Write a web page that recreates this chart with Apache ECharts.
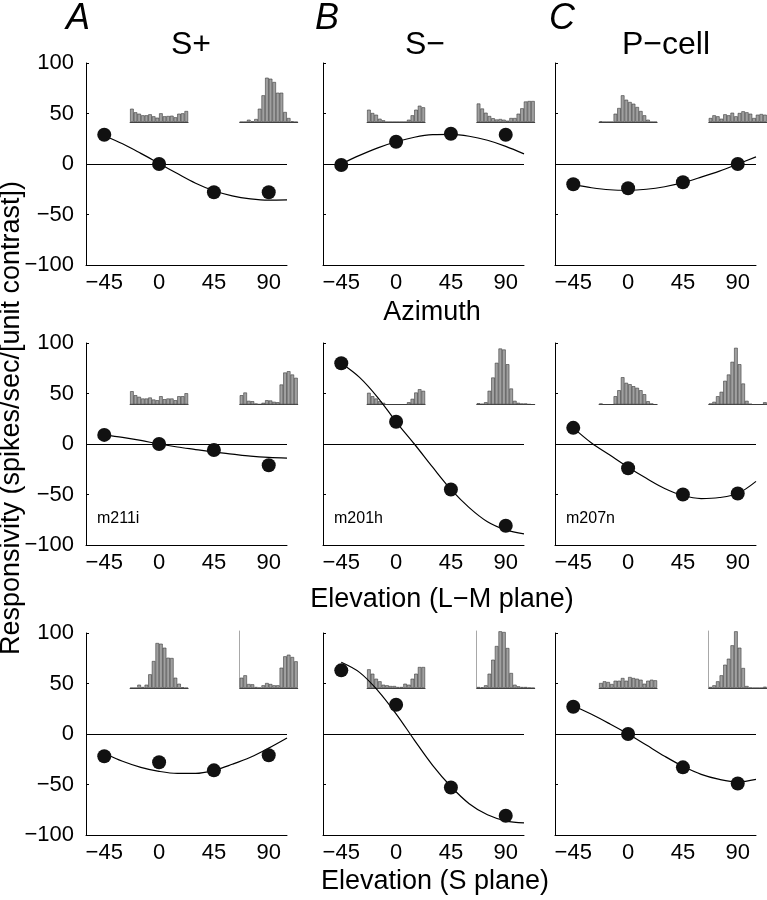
<!DOCTYPE html>
<html>
<head>
<meta charset="utf-8">
<script src="https://cdn.jsdelivr.net/npm/echarts@6/dist/echarts.min.js"></script>
<style>
html,body{margin:0;padding:0;background:#fff;}
#chart{width:767px;height:900px;}
</style>
</head>
<body>
<div id="chart"></div>
<script>
// ---------- data ----------
const xTicks = [-45, 0, 45, 90];
const yTicks = [-100, -50, 0, 50, 100];
const pointX = [-45, 0, 45, 90];
const curveX = [-45, -30, -15, 0, 15, 30, 45, 60, 75, 90, 105];

const columnTitles = ['S+', 'S\u2212', 'P\u2212cell'];
const columnLetters = ['A', 'B', 'C'];
const rowTitles = ['Azimuth', 'Elevation (L\u2212M plane)', 'Elevation (S plane)'];
const cellNames = ['m211i', 'm201h', 'm207n'];
const yTitle = 'Responsivity (spikes/sec/[unit contrast])';

// points (responsivity) per panel
const ptsA1 = [29, 0, -28, -28];
const ptsB1 = [-1, 22, 30, 29];
const ptsC1 = [-20, -24, -18, 0];
const ptsA2 = [9, 0, -6, -21];
const ptsB2 = [80, 22, -45, -81];
const ptsC2 = [16, -24, -50, -49];
const ptsA3 = [-22, -28, -36, -21];
const ptsB3 = [63, 29, -53, -81];
const ptsC3 = [27, 0, -33, -49];

// fitted curves at curveX
const curveA1 = [28, 20, 10.5, 0.5, -9.5, -19, -26.5, -31.5, -34.5, -35.8, -35.6];
const curveB1 = [0, 8.5, 16, 22, 26.5, 29, 29.3, 27.5, 23.5, 17.5, 10];
const curveC1 = [-20.5, -23.5, -25.5, -26, -25, -22.5, -18.5, -13, -7, 0, 7];
const curveA2 = [9, 6.5, 3.5, 0, -3, -5.5, -8, -10, -12, -13.3, -14];
const curveB2 = [80, 66, 46, 22, 0, -23, -45, -63, -77, -85, -89];
const curveC2 = [16, 1, -11, -23, -34, -44, -51, -54, -53, -49, -37];
const curveA3 = [-19, -27, -33, -37, -39, -39, -36, -30, -23, -14, -4];
const curveB3 = [71, 61, 43, 20, -6, -31, -52, -69, -80, -86, -88];
const curveC3 = [28, 19.5, 10, 0, -11, -22, -32, -40, -45, -47.5, -45];

// inset histograms (16 bins each): first centred at 0, second at 90
const histBins = ['1','2','3','4','5','6','7','8','9','10','11','12','13','14','15','16'];
const hA1a = [13.3, 9.7, 8.3, 6.7, 6.7, 7.7, 5.7, 4.3, 8.7, 5.7, 6, 6.3, 4.7, 8.3, 8.7, 11];
const hA1b = [0, 0, 2.3, 0.7, 3, 13.3, 26.7, 44.3, 43.3, 40, 29.3, 29.3, 10, 4, 0.7, 0];
const hB1a = [12.3, 9, 7.3, 3.3, 1.7, 0, 0, 0, 0, 0, 0, 2.3, 6.7, 12.3, 16.3, 14.7];
const hB1b = [18.5, 13.5, 9.3, 6, 3.8, 2.5, 3, 2.3, 1.3, 4, 4, 8.3, 13.7, 20.5, 21, 21];
const hC1a = [0.7, 0, 0, 0, 8.3, 14, 26.7, 22.3, 20, 18.3, 15, 11, 6.7, 2.3, 0, 0];
const hC1b = [4, 6.7, 5.7, 3.3, 7.7, 6.7, 9.3, 5.7, 9, 10.7, 9.7, 8.3, 4, 7.3, 8, 7.3];
const hA2a = [13.3, 9.3, 7.7, 6, 6, 7, 5, 4.3, 8.3, 5.3, 6, 6, 4.3, 8.3, 8.3, 11.3];
const hA2b = [9.3, 12, 3.7, 3.3, 1, 0.3, 1.7, 4.3, 4, 2.7, 2.3, 20, 32, 33.3, 30, 26.7];
const hB2a = [11.7, 8.3, 6, 3.3, 1.7, 0, 0, 0, 0, 0, 0, 2.3, 5.7, 12, 15.3, 13.7];
const hB2b = [1.3, 0.7, 2.3, 13.7, 27, 41.7, 56, 55, 40.3, 16, 3.7, 1.7, 1, 1, 0.3, 0];
const hC2a = [1, 0, 0, 0, 8.3, 14.3, 27.3, 21.7, 20.3, 18.3, 16.7, 14.3, 10.3, 3.3, 1, 0];
const hC2b = [1, 2.7, 8.3, 12.7, 23.7, 30, 42.7, 56.7, 40.3, 21, 3.7, 0.7, 0, 0, 0, 2.3];
const hA3a = [0, 0, 3.3, 1, 3.3, 13.7, 27, 45, 44.3, 40.3, 30.3, 30, 10.3, 4.3, 0.7, 0];
const hA3b = [10.3, 12.7, 4, 3.7, 1, 0.3, 2.7, 5, 4, 2.7, 2.7, 20.3, 31.7, 33.3, 31, 26.7];
const hB3a = [18.7, 14.3, 9.3, 6.7, 3.3, 2.7, 2, 2, 1, 1, 4.3, 3.3, 9.3, 14.3, 21, 21];
const hB3b = [1, 0.7, 2.7, 14.3, 28.3, 42, 56.7, 56, 40, 15, 3.3, 1.7, 1, 1, 0.3, 0];
const hC3a = [5, 6.7, 6, 4, 7.3, 7.3, 10, 7.3, 11, 10, 9.3, 8.3, 4.3, 7.3, 8.3, 7.7];
const hC3b = [1, 2.7, 6.7, 12.7, 23.3, 29.3, 42.7, 56.7, 40.3, 20, 2, 0.3, 0, 0, 0, 1.3];

// ---------- layout ----------
const FONT = '"Liberation Sans", Arial, Helvetica, sans-serif';
const colX = [86, 323, 555];
const rowY = [63, 343, 633];
const PW = 201, PH = 202;
const XMIN = -60, XMAX = 105;
const histCenters = [0, 90];
const histBase = [122, 404.5, 688];
const histW = 58, histH = 57;
const HMAX = 57;

const panels = [
  [ {p: ptsA1, c: curveA1, h: [hA1a, hA1b]}, {p: ptsB1, c: curveB1, h: [hB1a, hB1b]}, {p: ptsC1, c: curveC1, h: [hC1a, hC1b]} ],
  [ {p: ptsA2, c: curveA2, h: [hA2a, hA2b]}, {p: ptsB2, c: curveB2, h: [hB2a, hB2b]}, {p: ptsC2, c: curveC2, h: [hC2a, hC2b]} ],
  [ {p: ptsA3, c: curveA3, h: [hA3a, hA3b]}, {p: ptsB3, c: curveB3, h: [hB3a, hB3b]}, {p: ptsC3, c: curveC3, h: [hC3a, hC3b]} ]
];

const fmtMinus = v => String(v).replace('-', '\u2212');

const grid = [], xAxis = [], yAxis = [], series = [];
let gi = 0;

for (let r = 0; r < 3; r++) {
  for (let c = 0; c < 3; c++) {
    const pn = panels[r][c];
    grid.push({left: colX[c], top: rowY[r], width: PW, height: PH, containLabel: false});
    xAxis.push({
      type: 'value', gridIndex: gi, min: XMIN, max: XMAX,
      axisLine: {show: true, onZero: false, lineStyle: {color: '#000', width: 1}},
      axisTick: {show: false},
      splitLine: {show: false},
      axisLabel: {show: true, customValues: xTicks, formatter: fmtMinus, fontSize: 22,
                  color: '#000', fontFamily: FONT, margin: 7}
    });
    yAxis.push({
      type: 'value', gridIndex: gi, min: -100, max: 100, interval: 50,
      axisLine: {show: true, onZero: false, lineStyle: {color: '#000', width: 1}},
      axisTick: {show: true, inside: true, length: 3, lineStyle: {color: '#000'}},
      splitLine: {show: false},
      axisLabel: {show: c === 0, formatter: fmtMinus, fontSize: 22, color: '#000',
                  fontFamily: FONT, margin: 12}
    });
    series.push({
      type: 'line', xAxisIndex: gi, yAxisIndex: gi,
      data: curveX.map((x, i) => [x, pn.c[i]]),
      smooth: 0.35, showSymbol: false, silent: true, z: 3,
      lineStyle: {color: '#000', width: 1.2},
      markLine: {silent: true, symbol: 'none', label: {show: false},
                 lineStyle: {color: '#000', width: 1, type: 'solid'},
                 data: [{yAxis: 0}], animation: false},
      animation: false
    });
    series.push({
      type: 'scatter', xAxisIndex: gi, yAxisIndex: gi,
      data: pointX.map((x, i) => [x, pn.p[i]]),
      symbolSize: 14, z: 5, silent: true,
      itemStyle: {color: '#111', opacity: 1},
      emphasis: {disabled: true},
      animation: false
    });
    gi++;
  }
}

// histogram insets
for (let r = 0; r < 3; r++) {
  for (let c = 0; c < 3; c++) {
    for (let k = 0; k < 2; k++) {
      const cx = colX[c] + (histCenters[k] - XMIN) / (XMAX - XMIN) * PW;
      grid.push({left: cx - histW / 2, top: histBase[r] - histH, width: histW, height: histH});
      xAxis.push({
        type: 'category', gridIndex: gi, data: histBins, boundaryGap: true,
        axisLine: {show: true, lineStyle: {color: '#444', width: 1}},
        axisTick: {show: false}, axisLabel: {show: false}, splitLine: {show: false}
      });
      yAxis.push({
        type: 'value', gridIndex: gi, min: 0, max: HMAX,
        axisLine: {show: (r === 2 && k === 1), lineStyle: {color: '#a8a8a8', width: 1}},
        axisTick: {show: false}, axisLabel: {show: false}, splitLine: {show: false}
      });
      series.push({
        type: 'bar', xAxisIndex: gi, yAxisIndex: gi,
        data: panels[r][c].h[k], barCategoryGap: '0%', silent: true,
        itemStyle: {color: '#a0a0a0', borderColor: '#3a3a3a', borderWidth: 0.6},
        animation: false
      });
      gi++;
    }
  }
}

// text elements
const graphic = [];
const titleX = [191, 425, 666];
const letterX = [78, 327, 562];
for (let c = 0; c < 3; c++) {
  graphic.push({type: 'text', x: letterX[c], y: 19,
    style: {text: columnLetters[c], font: 'italic 36px ' + FONT, fill: '#000',
            textAlign: 'center', textVerticalAlign: 'middle'}});
  graphic.push({type: 'text', x: titleX[c], y: 45,
    style: {text: columnTitles[c], font: '32px ' + FONT, fill: '#000',
            textAlign: 'center', textVerticalAlign: 'middle'}});
  graphic.push({type: 'text', x: colX[c] + 11, y: 519,
    style: {text: cellNames[c], font: '16px ' + FONT, fill: '#000',
            textAlign: 'left', textVerticalAlign: 'middle'}});
}
const rowTitleX = [432, 442, 435];
const rowTitleY = [313, 600, 882];
for (let r = 0; r < 3; r++) {
  graphic.push({type: 'text', x: rowTitleX[r], y: rowTitleY[r],
    style: {text: rowTitles[r], font: '27px ' + FONT, fill: '#000',
            textAlign: 'center', textVerticalAlign: 'middle'}});
}
graphic.push({type: 'text', x: 12, y: 418, rotation: Math.PI / 2,
  style: {text: yTitle, font: '27px ' + FONT, fill: '#000',
          textAlign: 'center', textVerticalAlign: 'middle'}});

const chart = echarts.init(document.getElementById('chart'), null, {renderer: 'canvas'});
chart.setOption({
  backgroundColor: '#fff',
  animation: false,
  grid, xAxis, yAxis, series, graphic
});
</script>
</body>
</html>
